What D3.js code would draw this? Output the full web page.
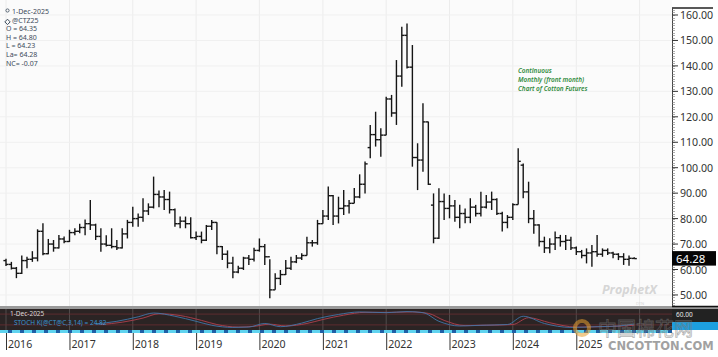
<!DOCTYPE html>
<html><head><meta charset="utf-8">
<script src="https://cdn.jsdelivr.net/npm/d3@7"></script>
<style>
body{margin:0;background:#fff;}
svg{display:block;font-family:"Noto Sans","Open Sans",sans-serif;}
</style>
</head><body>
<svg id="chart" width="718" height="357"></svg>
<script>
// ---------- DATA (monthly front-month cotton futures, Jan 2016 .. Dec 2025) ----------
const firstMonth = [2016, 0];
const opens = [
63.5,62.0,60.5,58.5,63.5,64.0,64.5,75.0,66.2,70.0,68.5,72.0,
71.0,74.5,75.0,76.5,78.0,77.5,73.0,70.0,69.5,69.0,68.5,74.0,
78.5,80.0,80.5,83.0,84.5,89.5,88.5,87.5,83.5,78.0,79.0,78.0,
72.5,73.0,71.5,77.0,78.5,69.0,66.0,62.5,59.0,60.5,64.5,64.0,
67.5,69.0,65.0,52.0,56.5,58.0,60.5,63.0,64.5,65.5,70.5,70.5,
78.0,81.0,89.0,81.0,84.0,85.0,86.0,88.5,93.5,107.9,113.0,111.0,
112.8,127.0,121.5,136.0,152.0,139.5,104.0,103.0,118.0,85.3,72.3,86.7,
84.0,85.0,80.5,82.0,80.5,84.5,82.0,84.5,86.5,87.5,82.0,78.5,
80.5,85.5,101.0,90.5,80.0,77.5,71.0,68.5,70.0,72.5,71.0,71.5,
68.5,67.0,65.5,66.5,67.0,66.0,67.5,66.5,66.0,65.0,64.0,64.35];
const highs = [
64.2,63.0,61.0,65.5,65.0,67.2,75.8,78.2,72.0,71.6,73.6,73.0,
75.6,76.2,78.0,79.6,87.3,78.0,76.2,73.5,76.2,71.6,76.2,79.5,
84.7,82.0,88.0,86.0,96.5,91.0,91.2,90.6,84.0,80.8,80.8,80.5,
74.9,74.9,77.5,79.5,78.6,69.2,67.5,65.0,61.5,65.0,65.7,68.5,
72.2,70.0,64.0,58.5,59.8,63.7,65.0,65.7,66.4,72.9,71.6,79.5,
83.4,92.6,89.3,88.6,91.2,87.3,92.0,97.4,102.4,116.8,122.0,115.5,
127.9,128.6,142.3,155.4,156.7,148.2,109.6,125.3,118.1,89.9,91.9,89.9,
89.3,87.3,85.4,84.0,88.0,85.4,90.6,89.3,90.6,88.0,82.7,81.4,
86.0,107.6,101.7,94.5,83.4,77.8,72.9,72.3,74.9,73.6,73.6,72.9,
69.0,67.7,68.3,69.6,73.6,68.3,68.3,67.0,66.4,66.4,65.5,64.80];
const lows = [
61.4,60.0,56.6,58.2,60.5,63.0,63.2,65.6,66.0,67.0,68.3,70.3,
70.8,73.5,74.2,73.5,75.5,71.6,67.0,69.0,68.3,67.7,68.3,72.2,
76.8,76.8,78.8,81.4,84.0,84.5,83.4,82.0,76.8,76.2,76.2,72.2,
71.6,70.3,71.2,75.5,66.0,63.7,60.5,56.6,58.5,59.8,61.8,63.1,
67.0,61.8,48.7,52.0,53.9,57.8,59.8,62.5,63.7,65.5,69.0,69.7,
78.0,79.5,77.5,78.1,81.4,82.0,86.0,88.0,89.9,103.7,108.3,104.3,
112.8,120.0,116.8,131.8,139.0,100.4,91.2,98.4,93.2,70.3,72.0,79.5,
80.1,78.8,76.2,78.2,78.2,80.8,80.8,84.0,83.4,81.4,74.9,76.2,
79.5,85.5,88.0,78.2,74.0,69.0,66.5,66.4,67.7,69.0,67.7,67.7,
65.7,64.4,62.4,61.1,65.0,65.0,65.7,64.4,63.7,61.8,61.5,64.23];
const closes = [
62.0,60.5,58.5,63.5,64.0,64.5,75.0,66.2,70.0,68.5,72.0,71.0,
74.5,75.0,76.5,78.0,77.5,73.0,70.0,69.5,69.0,68.5,74.0,78.5,
80.0,80.5,83.0,84.5,89.5,88.5,87.5,83.5,78.0,79.0,78.0,72.5,
73.0,71.5,77.0,78.5,69.0,66.0,62.5,59.0,60.5,64.5,64.0,67.5,
69.0,65.0,52.0,56.5,58.0,60.5,63.0,64.5,65.5,70.5,70.5,78.0,
81.0,89.0,81.0,84.0,85.0,86.0,88.5,93.5,101.5,113.0,111.0,112.8,
127.0,121.5,136.0,152.0,139.5,104.0,103.0,118.0,93.5,72.3,86.7,84.0,
85.0,80.5,82.0,80.5,84.5,82.0,84.5,86.5,87.5,82.0,78.5,80.5,
85.5,102.5,90.5,80.0,77.5,71.0,68.5,70.0,72.5,71.0,71.5,68.5,
67.0,65.5,66.5,67.0,66.0,67.5,66.5,66.0,65.0,64.0,64.4,64.28];

const yTickValues = [50,60,70,80,90,100,110,120,130,140,150,160];
const yearLabels = ["2016","2017","2018","2019","2020","2021","2022","2023","2024","2025"];
const lastPrice = 64.28;

// Stochastics sub-panel (month "YYYY-MM" and value 0-100)
const stochKDates  = ["2017-06","2017-10","2018-02","2018-05","2018-09","2019-01","2019-04","2019-08","2019-11","2020-02","2020-05","2020-09","2020-12","2021-04","2021-08","2022-01","2022-05","2022-08","2022-11","2023-03","2023-07","2023-12","2024-03","2024-07","2024-12","2025-05","2025-09","2025-12"];
const stochKValues = [26,40,65,86,68,40,18,6,8,28,10,30,55,78,92,88,94,88,40,14,18,22,68,28,6,10,14,24.82];
const stochDDates  = ["2017-07","2017-11","2018-03","2018-06","2018-10","2019-02","2019-05","2019-09","2019-12","2020-03","2020-06","2020-10","2021-01","2021-05","2021-09","2022-02","2022-06","2022-09","2022-12","2023-04","2023-08","2024-01","2024-04","2024-08","2025-01","2025-06","2025-10","2025-12"];
const stochDValues = [22,35,58,82,72,45,22,8,12,24,14,28,50,74,90,90,92,84,45,16,18,22,60,32,8,10,14,18];

const legendLines = ["1-Dec-2025","@CTZ25","O = 64.35","H = 64.80","L = 64.23","La= 64.28","NC= -0.07"];
const noteLines = ["Continuous","Monthly (front month)","Chart of Cotton Futures"];
const stochTitle = ["1-Dec-2025","STOCH K(@CT@C,3,14) = 24.82"];

// ---------- LAYOUT ----------
const svg = d3.select("#chart");
const W = 718, H = 357;
const plot = {left:0, right:672, top:8, bottom:306};
const sub = {top:309, bottom:330};

const months = opens.map((d,i)=> new Date(firstMonth[0], firstMonth[1]+i, 1));
const bars = months.map((m,i)=>({date:m,o:opens[i],h:highs[i],l:lows[i],c:closes[i]}));

const x = d3.scaleTime().domain([new Date(2016,0,1), new Date(2026,0,1)]).range([6, 639.6]);
const y = d3.scaleLinear().domain([45.66, 162.75]).range([plot.bottom, plot.top]);
const ys = d3.scaleLinear().domain([0,100]).range([328.5, 310.5]);
const parseM = d3.timeParse("%Y-%m");

// backgrounds
svg.append("rect").attr("width",W).attr("height",H).attr("fill","#ffffff");
svg.append("rect").attr("x",0).attr("y",0).attr("width",plot.right).attr("height",plot.bottom)
  .attr("fill","#fbfbfb");

// grid
const years = d3.timeYear.range(new Date(2016,0,1), new Date(2027,0,1));
svg.append("g").selectAll("line").data(years).join("line")
  .attr("x1",d=>x(d)).attr("x2",d=>x(d)).attr("y1",0).attr("y2",plot.bottom)
  .attr("stroke","#ececec").attr("stroke-width",1);
svg.append("g").selectAll("line").data(yTickValues).join("line")
  .attr("x1",0).attr("x2",plot.right).attr("y1",d=>y(d)).attr("y2",d=>y(d))
  .attr("stroke","#f0f0f0").attr("stroke-width",1);

// OHLC bars
const bw = 1.4, tk = 2.6;
const gb = svg.append("g").attr("stroke","#151515").attr("stroke-width",bw);
gb.selectAll("line.hl").data(bars).join("line").attr("class","hl")
  .attr("x1",d=>x(d.date)).attr("x2",d=>x(d.date)).attr("y1",d=>y(d.h)).attr("y2",d=>y(d.l));
gb.selectAll("line.op").data(bars).join("line").attr("class","op")
  .attr("x1",d=>x(d.date)-tk).attr("x2",d=>x(d.date)).attr("y1",d=>y(d.o)).attr("y2",d=>y(d.o));
gb.selectAll("line.cl").data(bars).join("line").attr("class","cl")
  .attr("x1",d=>x(d.date)).attr("x2",d=>x(d.date)+tk).attr("y1",d=>y(d.c)).attr("y2",d=>y(d.c));

// ProphetX watermark
svg.append("text").attr("x",602).attr("y",294).text("ProphetX")
  .attr("font-size",12.5).attr("font-weight","bold").attr("font-style","italic")
  .attr("fill","#d6d6d6").attr("font-family","Open Sans, sans-serif");
svg.append("text").attr("x",636).attr("y",304.5).text("DTN")
  .attr("font-size",4).attr("fill","#d6d6d6");

// green note
svg.append("g").selectAll("text").data(noteLines).join("text")
  .attr("x",518).attr("y",(d,i)=>73+i*9).text(d=>d)
  .attr("font-size",6.4).attr("font-style","italic").attr("font-weight",600)
  .attr("fill","#2f8a3a");

// legend
svg.append("g").selectAll("text").data(legendLines).join("text")
  .attr("x",(d,i)=> i<2 ? 12 : 6).attr("y",(d,i)=>14+i*8.6).text(d=>d)
  .attr("font-size",7).attr("fill","#3b4a5a");
svg.append("circle").attr("cx",7.5).attr("cy",10.5).attr("r",1.6).attr("fill","none").attr("stroke","#3b4a5a").attr("stroke-width",0.8);
svg.append("path").attr("d",`M7.5,19.2 L10.2,21.9 L7.5,24.6 L4.8,21.9 Z`).attr("fill","none").attr("stroke","#3b4a5a").attr("stroke-width",1);

// right price axis
const ax = svg.append("g");
ax.append("rect").attr("x",plot.right).attr("y",0).attr("width",W-plot.right).attr("height",plot.bottom).attr("fill","#ffffff");
ax.append("line").attr("x1",plot.right).attr("x2",713).attr("y1",plot.top).attr("y2",plot.top).attr("stroke","#222").attr("stroke-width",1.5);
ax.append("line").attr("x1",plot.right+0.5).attr("x2",plot.right+0.5).attr("y1",plot.top).attr("y2",plot.bottom).attr("stroke","#444");
const minor = d3.range(46,163,1);
ax.selectAll("line.mn").data(minor).join("line").attr("class","mn")
  .attr("x1",plot.right).attr("x2",plot.right+3).attr("y1",d=>Math.round(y(d))+0.5).attr("y2",d=>Math.round(y(d))+0.5)
  .attr("stroke","#777").attr("stroke-width",0.6);
ax.selectAll("line.mj").data(yTickValues).join("line").attr("class","mj")
  .attr("x1",plot.right).attr("x2",plot.right+6).attr("y1",d=>y(d)).attr("y2",d=>y(d))
  .attr("stroke","#333").attr("stroke-width",1);
ax.selectAll("text").data(yTickValues).join("text")
  .attr("x",680).attr("y",d=>y(d)+4).text(d=>d3.format(".2f")(d))
  .attr("font-size",10.6).attr("fill","#333");
// last price box
ax.append("rect").attr("x",plot.right).attr("y",y(lastPrice)-7.5).attr("width",44).attr("height",14.5).attr("fill","#050505");
ax.append("text").attr("x",676).attr("y",y(lastPrice)+4).text(d3.format(".2f")(lastPrice))
  .attr("font-size",11.5).attr("fill","#ffffff");

// separator
svg.append("rect").attr("x",0).attr("y",plot.bottom).attr("width",W).attr("height",sub.top-plot.bottom).attr("fill","#9a9a9a");
svg.append("line").attr("x1",plot.right).attr("x2",W).attr("y1",plot.bottom+0.5).attr("y2",plot.bottom+0.5).attr("stroke","#111").attr("stroke-width",1.5);

// stochastic panel
svg.append("rect").attr("x",0).attr("y",sub.top).attr("width",plot.right).attr("height",sub.bottom-sub.top).attr("fill","#2b2424");
svg.append("rect").attr("x",plot.right).attr("y",sub.top).attr("width",W-plot.right).attr("height",sub.bottom-sub.top).attr("fill","#222");
svg.append("g").selectAll("line").data(years).join("line")
  .attr("x1",d=>x(d)).attr("x2",d=>x(d)).attr("y1",sub.top).attr("y2",sub.bottom)
  .attr("stroke","#5a5555").attr("stroke-width",0.8);
svg.append("g").selectAll("line").data([20,80]).join("line")
  .attr("x1",0).attr("x2",plot.right).attr("y1",d=>ys(d)).attr("y2",d=>ys(d))
  .attr("stroke","#6a2e34").attr("stroke-width",0.8);
const lineS = d3.line().x(d=>x(d[0])).y(d=>ys(d[1])).curve(d3.curveMonotoneX);
svg.append("path").datum(stochDDates.map((d,i)=>[parseM(d),stochDValues[i]]))
  .attr("d",lineS).attr("fill","none").attr("stroke","#b0414e").attr("stroke-width",0.9);
svg.append("path").datum(stochKDates.map((d,i)=>[parseM(d),stochKValues[i]]))
  .attr("d",lineS).attr("fill","none").attr("stroke","#3f76a8").attr("stroke-width",0.9);
svg.append("text").attr("x",10).attr("y",316).text(stochTitle[0]).attr("font-size",6.5).attr("fill","#d8d8d8");
svg.append("text").attr("x",14).attr("y",325).text(stochTitle[1]).attr("font-size",6.5).attr("fill","#3a93d0");
svg.append("text").attr("x",676).attr("y",317).text("60.00").attr("font-size",6.5).attr("fill","#e8e8e8");
svg.append("rect").attr("x",plot.right).attr("y",322).attr("width",W-plot.right).attr("height",sub.bottom-322).attr("fill","#1d9fe0");

// cyan dashed strip
svg.append("rect").attr("x",0).attr("y",sub.bottom).attr("width",plot.right).attr("height",3).attr("fill","#1e5fa6");
svg.append("line").attr("x1",0).attr("x2",plot.right).attr("y1",sub.bottom+1.5).attr("y2",sub.bottom+1.5)
  .attr("stroke","#5fd3ef").attr("stroke-width",3).attr("stroke-dasharray","8,4");

// x axis (years)
const xa = svg.append("g");
xa.selectAll("line").data(years.slice(0,10)).join("line")
  .attr("x1",d=>x(d)+0.5).attr("x2",d=>x(d)+0.5).attr("y1",333).attr("y2",350)
  .attr("stroke","#333").attr("stroke-width",1);
xa.selectAll("text").data(years.slice(0,10)).join("text")
  .attr("x",d=>x(d)+2).attr("y",348).text((d,i)=>yearLabels[i])
  .attr("font-size",10.6).attr("fill","#333");

// cncotton watermark
const wm = svg.append("g").attr("opacity",0.55);
wm.append("circle").attr("cx",582).attr("cy",328).attr("r",7).attr("fill","none").attr("stroke","#e8a030").attr("stroke-width",4);
wm.append("text").attr("x",598).attr("y",336).text("中国棉花网")
  .attr("font-family","Noto Sans CJK SC").attr("font-size",19).attr("fill","none")
  .attr("stroke","#777").attr("stroke-width",0.8);
wm.append("text").attr("x",608).attr("y",350).text("CNCOTTON.COM")
  .attr("font-family","DejaVu Sans").attr("font-weight","bold").attr("font-size",11.5).attr("fill","#555");
</script>
</body></html>
